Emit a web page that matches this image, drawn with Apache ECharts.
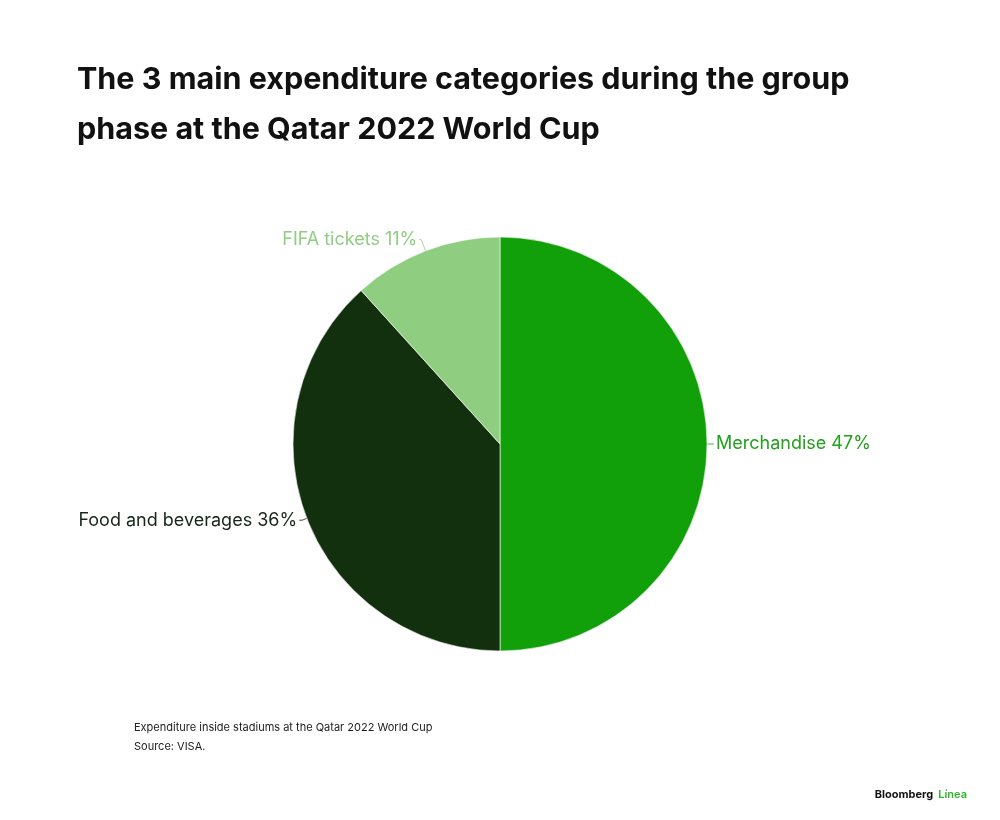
<!DOCTYPE html>
<html><head><meta charset="utf-8">
<script src="https://cdn.jsdelivr.net/npm/echarts@6/dist/echarts.min.js"></script>
<style>html,body{margin:0;padding:0;background:#fff}#c{width:1000px;height:820px}</style>
</head><body><div id="c"></div>
<script>
const categories = ["Merchandise", "Food and beverages", "FIFA tickets"];
const values = [47, 36, 11];
const colors = ["#12a00a", "#12300e", "#8fce81"];
const labelColors = ["#23a01d", "#17261a", "#8fce81"];
const lineLens = [[4, 3], [5, 3], [12, 2]];

const chart = echarts.init(document.getElementById('c'));
chart.setOption({
  backgroundColor: '#fff',
  animation: false,
  title: [
    { text: 'The 3 main expenditure categories during the group\nphase at the Qatar 2022 World Cup',
      left: 72, top: 50,
      textStyle: { fontFamily: 'Inter', fontWeight: 700, fontSize: 30.5, lineHeight: 50, color: '#111' } },
    { text: 'Expenditure inside stadiums at the Qatar 2022 World Cup\nSource: VISA.',
      left: 129, top: 713,
      textStyle: { fontFamily: 'Inter', fontWeight: 400, fontSize: 11, lineHeight: 19, color: '#222' } },
    { text: '{a|Bloomberg} {b|Línea}', right: 28, top: 781,
      textStyle: { rich: {
        a: { fontFamily: 'Inter', fontWeight: 700, fontSize: 11, color: '#111' },
        b: { fontFamily: 'Inter', fontWeight: 600, fontSize: 11, color: '#2fb52a' } } } }
  ],
  series: [{
    type: 'pie',
    center: [500, 444],
    radius: [0, 207],
    startAngle: 90,
    clockwise: true,
    avoidLabelOverlap: false,
    itemStyle: { borderColor: '#fff', borderWidth: 0.6 },
    label: {
      show: true, position: 'outside', fontFamily: 'Inter', fontSize: 18, fontWeight: 400,
      distanceToLabelLine: 2,
      formatter: p => p.name + ' ' + p.value + '%'
    },
    labelLine: { show: true, lineStyle: { width: 0.8 } },
    data: categories.map((c, i) => ({
      name: c, value: values[i],
      itemStyle: { color: colors[i] },
      label: { color: labelColors[i] },
      labelLine: { length: lineLens[i][0], length2: lineLens[i][1], lineStyle: { color: labelColors[i] } }
    }))
  }]
});
</script></body></html>
